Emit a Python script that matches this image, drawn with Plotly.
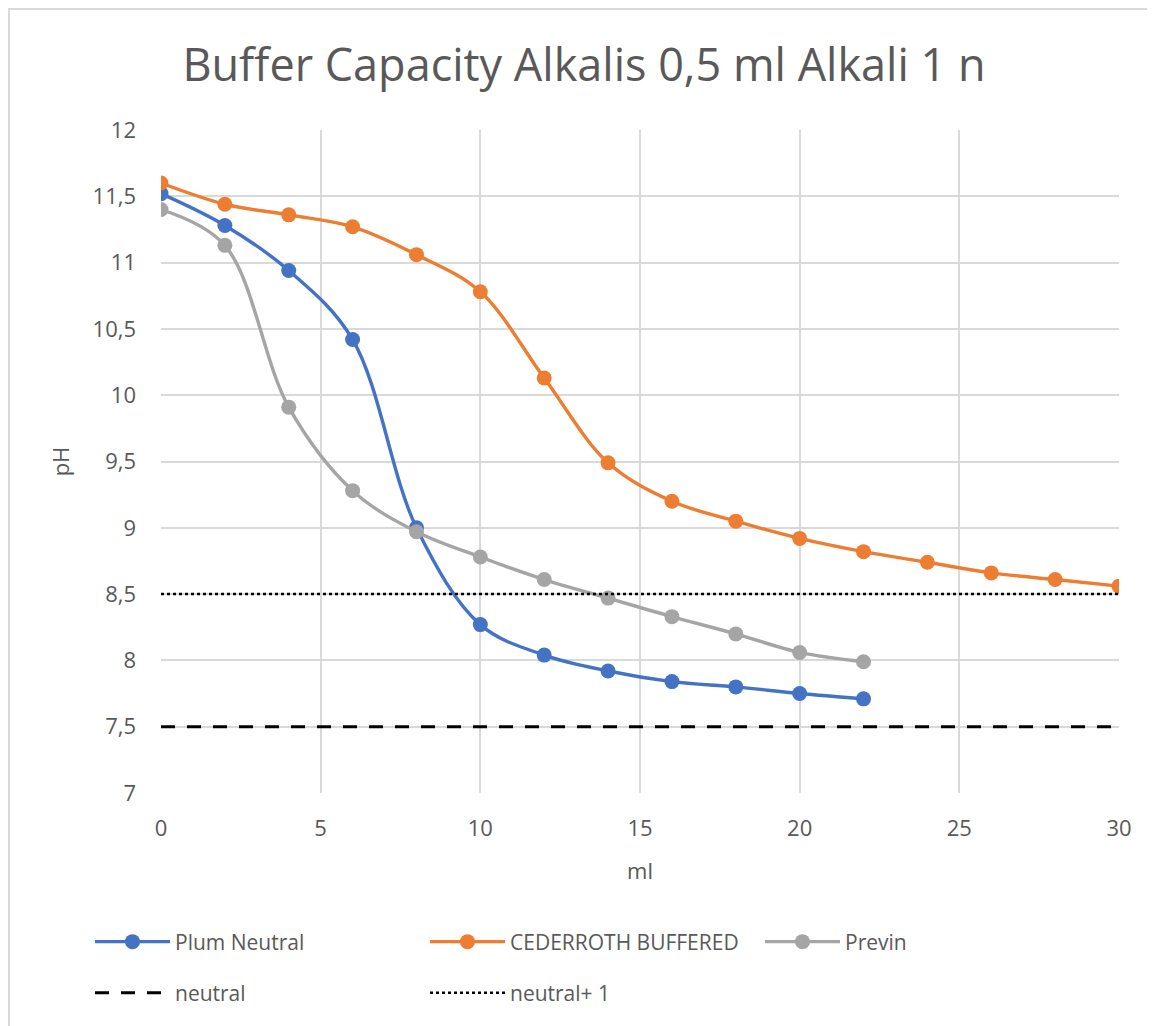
import plotly.graph_objects as go

ml = [0, 2, 4, 6, 8, 10, 12, 14, 16, 18, 20, 22, 24, 26, 28, 30]
plum_neutral = [11.52, 11.28, 10.94, 10.42, 9.00, 8.27, 8.04, 7.92, 7.84, 7.80, 7.75, 7.71]
cederroth = [11.60, 11.44, 11.36, 11.27, 11.06, 10.78, 10.13, 9.49, 9.20, 9.05, 8.92, 8.82, 8.74, 8.66, 8.61, 8.56]
previn = [11.40, 11.13, 9.91, 9.28, 8.97, 8.78, 8.61, 8.47, 8.33, 8.20, 8.06, 7.99]
neutral_x = [0, 30]
neutral = [7.5, 7.5]
neutral_plus1 = [8.5, 8.5]

TXT = "#595959"
GRID = "#d9d9d9"
FONT = "Open Sans"
OFF = 8  # page offset of the figure in the browser
H, W = 1026, 1155

fig = go.Figure()

def series(name, x, y, color, legend):
    fig.add_trace(go.Scatter(
        x=x, y=y, name=name, mode="lines+markers",
        line=dict(color=color, width=3.4, shape="spline", smoothing=1.0),
        marker=dict(color=color, size=15),
        legend=legend, showlegend=True,
    ))

series("Plum Neutral", ml[:len(plum_neutral)], plum_neutral, "#4472C4", "legend")
series("CEDERROTH BUFFERED", ml[:len(cederroth)], cederroth, "#ED7D31", "legend2")
series("Previn", ml[:len(previn)], previn, "#A5A5A5", "legend3")

fig.add_trace(go.Scatter(x=neutral_x, y=neutral, name="neutral", mode="lines",
                         line=dict(color="black", width=3, dash="14px,12px"), legend="legend4",
                         showlegend=True))
fig.add_trace(go.Scatter(x=neutral_x, y=neutral_plus1, name="neutral+ 1", mode="lines",
                         line=dict(color="black", width=2.5, dash="dot"), legend="legend5",
                         showlegend=True))

def leg(xpix, ypix):
    return dict(orientation="h", xref="container", yref="container", x=(xpix - OFF) / W,
                xanchor="left", y=1 - (ypix - OFF) / H, yanchor="middle",
                font=dict(family=FONT, size=21, color=TXT),
                itemwidth=75, bgcolor="rgba(0,0,0,0)")

L, T = 161 - OFF, 130 - OFF
PW, PH = 958, 663

fig.update_layout(
    width=W, height=H,
    showlegend=True,
    paper_bgcolor="white", plot_bgcolor="white",
    separators=",.",
    margin=dict(l=L, r=W - L - PW, t=T, b=H - T - PH),
    title=dict(text="Buffer Capacity Alkalis 0,5 ml Alkali 1 n", x=(584 - OFF) / W, xanchor="center",
               y=1 - (65 - OFF) / H, yanchor="middle", yref="container", xref="container",
               font=dict(family=FONT, size=45, color=TXT)),
    xaxis=dict(range=[0, 30], dtick=5, tick0=0, showgrid=True, gridcolor=GRID, gridwidth=2,
               zeroline=False, showline=False, ticks="", ticklabelstandoff=20,
               tickfont=dict(family=FONT, size=22, color=TXT),
               title=dict(text="ml", font=dict(family=FONT, size=22, color=TXT), standoff=22)),
    yaxis=dict(range=[7, 12], dtick=0.5, tick0=7, showgrid=True, gridcolor=GRID, gridwidth=2,
               zeroline=False, showline=False, ticks="", ticklabelstandoff=24,
               tickformat=".1~f",
               tickfont=dict(family=FONT, size=22, color=TXT),
               title=dict(text="pH", font=dict(family=FONT, size=22, color=TXT), standoff=16)),
    legend=leg(90, 942),
    legend2=leg(425, 942),
    legend3=leg(760, 942),
    legend4=leg(90, 993),
    legend5=leg(425, 993),
    shapes=[dict(type="rect", xref="paper", yref="paper",
                 x0=(9 - OFF - L) / PW, x1=1.3, y0=-1.5, y1=1 + (T - (9 - OFF)) / PH,
                 line=dict(color=GRID, width=2), fillcolor="rgba(0,0,0,0)", layer="below")],
)

fig.write_html("out.html")
